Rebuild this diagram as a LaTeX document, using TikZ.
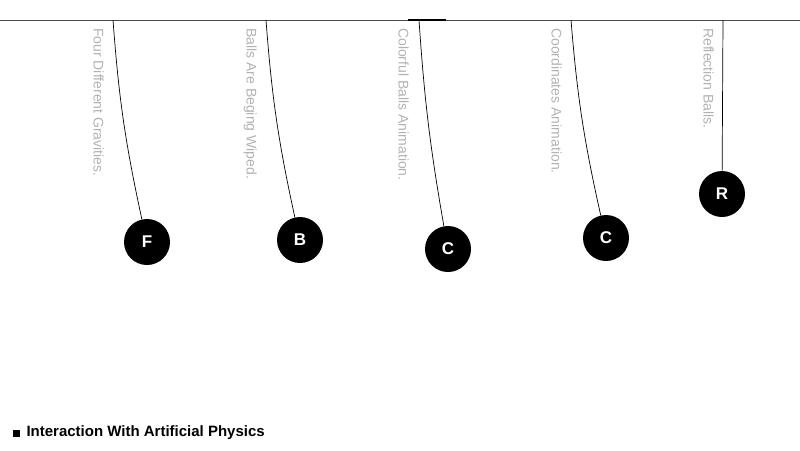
\documentclass[tikz,border=0pt]{standalone}
\usepackage{fontspec}
\setmainfont{Liberation Sans}
\usetikzlibrary{positioning}
\tikzset{
    ball/.style = {circle, fill=black, text=white, minimum size=46pt, inner sep=0pt, font=\bfseries\fontsize{17}{17}\selectfont},
    caption/.style = {rotate=-90, anchor=north west, text=black!30, inner sep=0pt, font=\fontsize{14}{14}\selectfont},
    string/.style = {draw=black, line width=0.7pt}
}
\begin{document}
\begin{tikzpicture}[x=1pt, y=-1pt]
    \useasboundingbox (0,0) rectangle (800,450);
    % ceiling
    \draw[black!70, line width=0.7pt] (0,20) -- (800,20);
    \draw[black, line width=2pt] (408,19.5) -- (446,19.5);

    % pivots
    \coordinate (pf) at (113,20);
    \coordinate (pb) at (266,20);
    \coordinate (pc) at (419,20);
    \coordinate (pd) at (571,20);
    \coordinate (pr) at (723,20);

    % captions
    \node[caption] (tf) at (104,28) {Four Different Gravities.};
    \node[caption] (tb) at (257,28) {Balls Are Beging Wiped.};
    \node[caption] (tc) at (409,28) {Colorful Balls Animation.};
    \node[caption] (td) at (562,28) {Coordinates Animation.};
    \node[caption] (tr) at (714,28) {Reflection Balls.};

    % balls
    \node[ball] (bf) at (147,242) {F};
    \node[ball] (bb) at (300,240) {B};
    \node[ball] (bc) at (448,249) {C};
    \node[ball] (bd) at (606,238) {C};
    \node[ball] (br) at (722,194) {R};

    % strings
    \draw[string] (pf) to[bend right=4] (bf);
    \draw[string] (pb) to[bend right=4] (bb);
    \draw[string] (pc) to[bend right=3] (bc);
    \draw[string] (pd) to[bend right=4] (bd);
    \draw[string] (pr) -- (br);

    % footer
    \node[anchor=west, font=\bfseries\fontsize{15}{15}\selectfont] (ft) at (9,433) {\rule{7pt}{7pt}\hspace{7pt}Interaction With Artificial Physics};
\end{tikzpicture}
\end{document}
